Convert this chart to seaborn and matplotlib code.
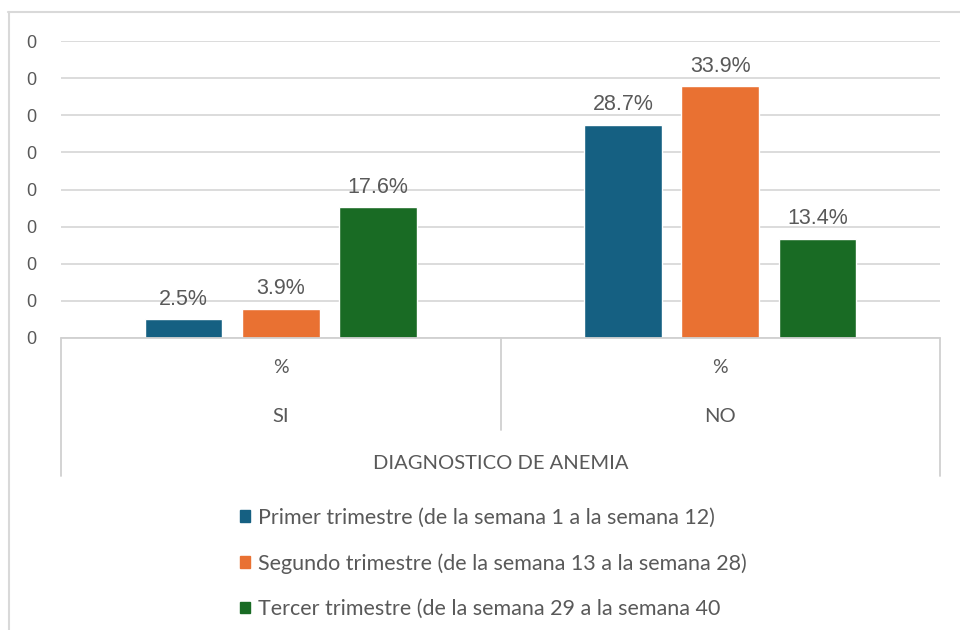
import matplotlib
matplotlib.use("Agg")
import matplotlib.pyplot as plt
import matplotlib.transforms as mtransforms
from matplotlib.patches import Patch
import seaborn as sns
import pandas as pd
import numpy as np

categories = ["SI", "NO"]
series = ["Primer trimestre (de la semana 1 a la semana 12)",
          "Segundo trimestre (de la semana 13 a la semana 28)",
          "Tercer trimestre (de la semana 29 a la semana 40"]
primer = [0.025, 0.287]
segundo = [0.039, 0.339]
tercer = [0.176, 0.134]
sub_label = "%"
axis_title = "DIAGNOSTICO DE ANEMIA"
yticks = [0, 0.05, 0.10, 0.15, 0.20, 0.25, 0.30, 0.35, 0.40]
colors = ["#156082", "#E97132", "#196B24"]

rows = []
for s, vals in zip(series, [primer, segundo, tercer]):
    for c, v in zip(categories, vals):
        rows.append({"cat": c, "serie": s, "val": v})
df = pd.DataFrame(rows)

sns.set_style("white")
plt.rcParams["font.family"] = ["Lato", "DejaVu Sans"]

fig = plt.figure(figsize=(9.6, 6.3), dpi=100)
W, H = 960, 630
ax = fig.add_axes([61 / W, 1 - 338 / H, (940 - 61) / W, (338 - 41) / H])

sns.barplot(data=df, x="cat", y="val", hue="serie", order=categories,
            hue_order=series, palette=colors, width=0.663, gap=0.2,
            ax=ax, legend=False, saturation=1)

ax.set_xlim(-0.5, 1.5)
ax.set_ylim(0, 0.40)
ax.set_yticks(yticks)
ax.set_yticklabels(["0"] * len(yticks), fontsize=13, color="#595959",
                   family="Liberation Sans")
ax.tick_params(axis="y", length=0, pad=18)
ax.set_xticks([])
ax.set_xlabel("")
ax.set_ylabel("")
for sp in ax.spines.values():
    sp.set_visible(False)
ax.grid(axis="y", color="#D9D9D9", linewidth=1.3)
ax.set_axisbelow(True)

gray = "#595959"
for cont in ax.containers:
    for bar in cont:
        h = bar.get_height()
        ax.annotate(f"{h * 100:.1f}%", (bar.get_x() + bar.get_width() / 2, h),
                    xytext=(0, 7), textcoords="offset points", ha="center",
                    va="bottom", fontsize=15.5, color=gray,
                    family="Liberation Sans")

# multi-level category axis
trans = mtransforms.blended_transform_factory(ax.transData, ax.transAxes)
lc = "#D0D0D0"
ax.plot([-0.5, 1.5], [0, 0], transform=trans, color=lc, lw=1.3, clip_on=False)
ax.plot([-0.5, -0.5], [0, -0.465], transform=trans, color=lc, lw=1.3, clip_on=False)
ax.plot([1.5, 1.5], [0, -0.465], transform=trans, color=lc, lw=1.3, clip_on=False)
ax.plot([0.5, 0.5], [0, -0.31], transform=trans, color=lc, lw=1.3, clip_on=False)
for i, c in enumerate(categories):
    ax.text(i, -0.101, sub_label, transform=trans, ha="center", va="center",
            fontsize=14, color=gray)
    ax.text(i, -0.263, c, transform=trans, ha="center", va="center",
            fontsize=14.5, color=gray)
ax.text(0.5, -0.424, axis_title, transform=trans, ha="center", va="center",
        fontsize=14.5, color=gray)

handles = [Patch(facecolor=c, edgecolor=c) for c in colors]
leg = fig.legend(handles, series, loc="upper left",
                 bbox_to_anchor=(221 / W, 1 - 488 / H), frameon=False,
                 fontsize=15.5, labelcolor=gray, handlelength=0.47,
                 handleheight=0.47, handletextpad=0.35, labelspacing=1.19)

# outer chart border (top and left)
fig.add_artist(plt.Line2D([8 / W, 1], [1 - 12 / H, 1 - 12 / H],
                          transform=fig.transFigure, color="#D9D9D9", lw=1.5))
fig.add_artist(plt.Line2D([9 / W, 9 / W], [0, 1 - 12 / H],
                          transform=fig.transFigure, color="#D9D9D9", lw=1.5))

fig.savefig("out.png", dpi=100)
